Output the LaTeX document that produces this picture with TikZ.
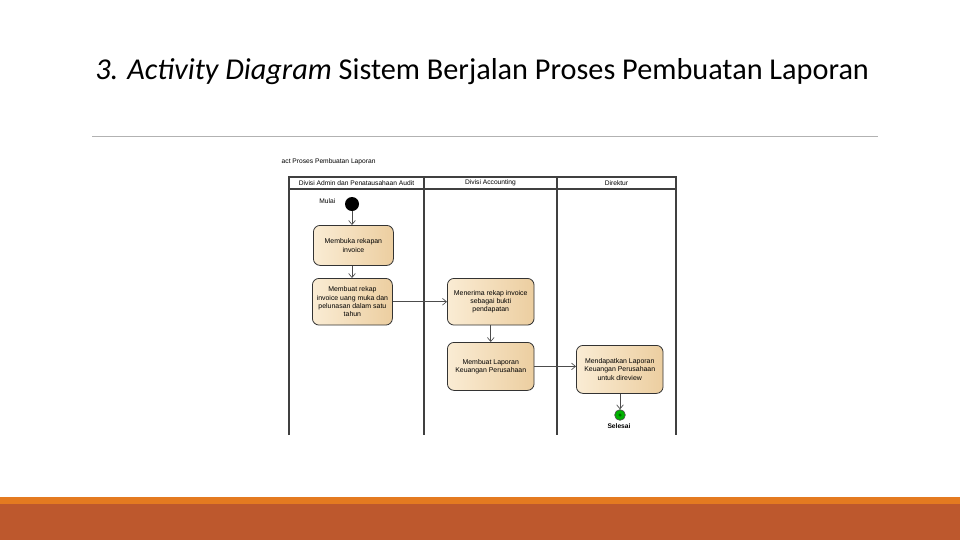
\documentclass[tikz,border=0pt]{standalone}
\usepackage{fontspec}
\setmainfont{Liberation Sans}
\newfontfamily\titlefont{Carlito}
\usetikzlibrary{arrows.meta}
\definecolor{rust}{RGB}{189,88,45}
\definecolor{orng}{RGB}{228,122,32}
\definecolor{boxa}{RGB}{250,236,212}
\definecolor{boxb}{RGB}{236,206,160}
\begin{document}
\begin{tikzpicture}[x=0.75pt,y=-0.75pt,
  act/.style={draw=black!80,line width=0.6pt,rounded corners=5pt,left color=boxa,right color=boxb,align=center,font=\fontsize{5.2}{6.2}\selectfont,inner sep=2pt,anchor=north west},
  flow/.style={draw=black!70,line width=0.5pt,-{Straight Barb[length=3pt,width=5pt]}},
  lane/.style={draw=black!75,line width=0.8pt},
  hdr/.style={font=\fontsize{5}{6}\selectfont}]
\useasboundingbox (0,0) rectangle (960,540);
\fill[white] (0,0) rectangle (960,540);
\node[font=\titlefont\fontsize{22.7}{26}\selectfont,anchor=west,inner sep=0] (title) at (95,72) {\textit{3. Activity Diagram} Sistem Berjalan Proses Pembuatan Laporan};
\draw[black!30,line width=0.6pt] (92,136) -- (878,136);
\fill[orng] (0,497) rectangle (960,504);
\fill[rust] (0,504) rectangle (960,540);
% frame
\node[hdr,anchor=west] (act) at (277,162) {act Proses Pembuatan Laporan};
\draw[lane] (289,435) -- (289,177) -- (676,177) -- (676,435);
\draw[lane] (289,189) -- (676,189);
\draw[lane] (424,177) -- (424,435);
\draw[lane] (557,177) -- (557,435);
\node[hdr] (l1) at (356.5,183) {Divisi Admin dan Penatausahaan Audit};
\node[hdr] (l2) at (490.5,183) {Divisi Accounting};
\node[hdr] (l3) at (616.5,183) {Direktur};
% nodes
\node[circle,fill=black,inner sep=0,minimum size=10.5pt] (start) at (352,204) {};
\node[hdr,anchor=east] (mulai) at (340,201) {Mulai};
\node[act,minimum width=60pt,minimum height=30pt] (b1) at (313,225) {Membuka rekapan\\invoice};
\node[act,minimum width=60pt,minimum height=35pt] (b2) at (312,278) {Membuat rekap\\invoice uang muka dan\\pelunasan dalam satu\\tahun};
\node[act,minimum width=65pt,minimum height=35pt,anchor=north west] (b3) at (447,278) {Menerima rekap invoice\\sebagai bukti\\pendapatan};
\node[act,minimum width=65pt,minimum height=36pt] (b4) at (447,342) {Membuat Laporan\\Keuangan Perusahaan};
\node[act,minimum width=65pt,minimum height=36pt] (b5) at (576,345) {Mendapatkan Laporan\\Keuangan Perusahaan\\untuk direview};
\node[circle,draw=black!70,fill=green!70!black,inner sep=0,minimum size=8pt,line width=0.5pt] (end) at (620,415) {};
\fill[black!60!green] (end) circle (1.3pt);
\node[font=\fontsize{5}{6}\selectfont\bfseries] (sel) at (619,426) {Selesai};
% flows
\draw[flow] (start) -- (b1.north -| start);
\draw[flow] (b1.south -| start) -- (b2.north -| start);
\draw[flow] (b2) -- (b3);
\draw[flow] (b3) -- (b4);
\draw[flow] (b4.east) -- (b5.west |- b4.east);
\draw[flow] (b5.south -| end) -- (end);
\end{tikzpicture}
\end{document}
